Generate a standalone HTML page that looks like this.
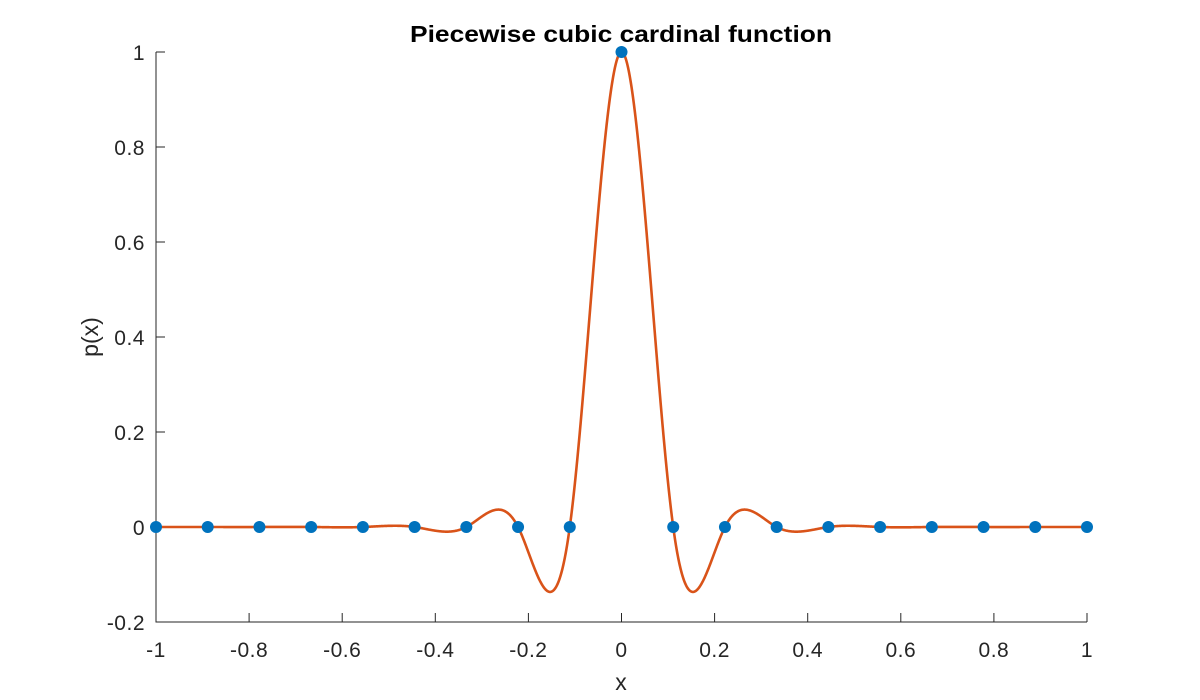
<!DOCTYPE html>
<html><head><meta charset="utf-8"><style>
html,body{margin:0;padding:0;background:#fff;}
svg{display:block;font-family:"Liberation Sans",sans-serif;}
</style></head><body>
<svg id="s" width="1200" height="700" xmlns="http://www.w3.org/2000/svg">
<rect width="1200" height="700" fill="#fff"/>
<g id="ax" stroke="#262626" stroke-width="1" fill="none"></g>
<g id="lbl" fill="#262626" font-size="21" letter-spacing="0.5"></g>
<path id="curve" fill="none" stroke="#D95319" stroke-width="2.6"/>
<g id="mk" fill="#0072BD"></g>
<text x="410" y="42" textLength="422" lengthAdjust="spacingAndGlyphs" font-weight="bold" font-size="23" fill="#000">Piecewise cubic cardinal function</text>
<text x="621" y="690" text-anchor="middle" font-size="23" fill="#262626">x</text>
<text transform="translate(98,337) rotate(-90)" text-anchor="middle" font-size="23" fill="#262626">p(x)</text>
</svg>
<script>
var L=156,R=1087,T=52,B=622;
function X(x){return L+(x+1)/2*(R-L);}
function Y(y){return 527-y*475;}
var ns="http://www.w3.org/2000/svg";
function el(t,a,p){var e=document.createElementNS(ns,t);for(var k in a)e.setAttribute(k,a[k]);p.appendChild(e);return e;}
var ax=document.getElementById('ax'),lb=document.getElementById('lbl');
el('path',{d:'M'+L+' '+T+'V'+B+'H'+R},ax);
for(var i=-5;i<=5;i++){var x=i/5,px=X(x);el('path',{d:'M'+px+' '+B+'v-9'},ax);
var t=el('text',{x:px,y:657,'text-anchor':'middle'},lb);t.textContent=(x==0?'0':(Math.round(x*10)/10).toString());}
for(var j=-1;j<=5;j++){var y=j/5,py=Y(y);el('path',{d:'M'+L+' '+py+'h9'},ax);
var t=el('text',{x:145,y:py+8,'text-anchor':'end'},lb);t.textContent=(j==0?'0':(Math.round(y*10)/10).toString());}
var n=18,h=2/n,xs=[],ys=[];
for(var i=0;i<=n;i++){xs.push(-1+i*h);ys.push(i==9?1:0);}
var M=new Array(n+1).fill(0),a=[],b=[],c=[],d=[];
for(var i=1;i<n;i++){a.push(1);b.push(4);c.push(1);d.push(6/(h*h)*(ys[i-1]-2*ys[i]+ys[i+1]));}
var m=d.length;for(var i=1;i<m;i++){var w=a[i]/b[i-1];b[i]-=w*c[i-1];d[i]-=w*d[i-1];}
var sol=new Array(m);sol[m-1]=d[m-1]/b[m-1];for(var i=m-2;i>=0;i--)sol[i]=(d[i]-c[i]*sol[i+1])/b[i];
for(var i=1;i<n;i++)M[i]=sol[i-1];
function S(x){var i=Math.min(n-1,Math.floor((x+1)/h));var x0=xs[i],x1=xs[i+1];var A=(x1-x)/h,Bb=(x-x0)/h;
return A*ys[i]+Bb*ys[i+1]+((A*A*A-A)*M[i]+(Bb*Bb*Bb-Bb)*M[i+1])*h*h/6;}
var dstr='';for(var k=0;k<=2000;k++){var x=-1+2*k/2000;dstr+=(k?'L':'M')+X(x).toFixed(2)+' '+Y(S(x)).toFixed(2);}
document.getElementById('curve').setAttribute('d',dstr);
var mk=document.getElementById('mk');
for(var i=0;i<=n;i++)el('circle',{cx:X(xs[i]),cy:Y(ys[i]),r:6},mk);
</script>
</body></html>
